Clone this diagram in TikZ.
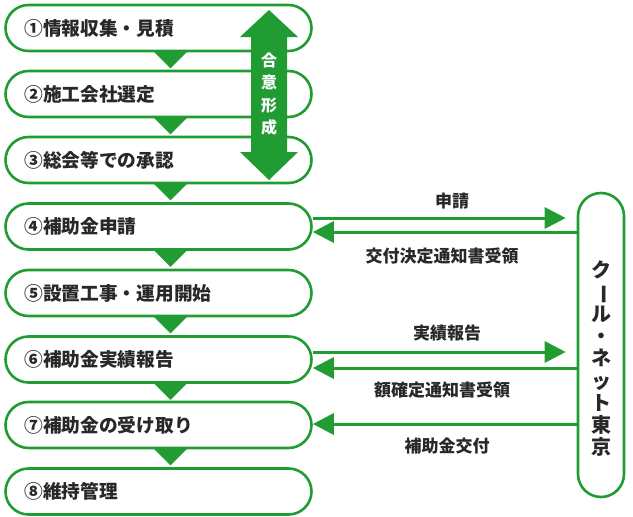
\documentclass[tikz,border=0pt]{standalone}
\usepackage{fontspec}
\setmainfont{Noto Sans CJK JP}
\usetikzlibrary{arrows.meta,calc}
\definecolor{gr}{RGB}{32,156,50}
\definecolor{tx}{RGB}{40,40,40}
\begin{document}
\begin{tikzpicture}[x=1pt,y=-1pt,
  stepbox/.style={draw=gr,line width=2.6pt,fill=white,rounded corners=23pt,
    minimum height=46pt,minimum width=306pt,inner xsep=19pt,inner ysep=0pt,
    text width=268pt,align=left,text=tx,font=\fontsize{18.7}{20}\selectfont\bfseries},
  tri/.style={fill=gr},
  arr/.style={draw=gr,line width=3pt,-{Triangle[length=21pt,width=21pt]}},
  lab/.style={text=tx,font=\fontsize{17}{18}\selectfont\bfseries,inner sep=0pt}]
\useasboundingbox (0,0) rectangle (633,517);
% boxes
\node[stepbox] (b1) at (158.5,28) {①情報収集・見積};
\node[stepbox] (b2) at (158.5,94) {②施工会社選定};
\node[stepbox] (b3) at (158.5,160) {③総会等での承認};
\node[stepbox] (b4) at (158.5,226.5) {④補助金申請};
\node[stepbox] (b5) at (158.5,293) {⑤設置工事・運用開始};
\node[stepbox] (b6) at (158.5,359.5) {⑥補助金実績報告};
\node[stepbox] (b7) at (158.5,425) {⑦補助金の受け取り};
\node[stepbox] (b8) at (158.5,491.5) {⑧維持管理};
% down triangles
\foreach \b in {b1,b2,b3,b4,b5,b6,b7}{
  \fill[tri] ($(\b.south)+(-5,-1)$) -- ++(34,0) -- ++(-17,17) -- cycle;
}
% consensus double arrow
\fill[gr] (269,10) -- (298,37) -- (287,37) -- (287,152) -- (298,152) -- (269,180)
  -- (240,152) -- (251,152) -- (251,37) -- (240,37) -- cycle;
\node[text=white,font=\fontsize{16}{22.5}\selectfont\bfseries,align=center,inner sep=0pt] (gi) at (269,94) {合\\意\\形\\成};
% right box
\node[draw=gr,line width=2.6pt,fill=white,rounded corners=23pt,minimum width=46pt,minimum height=304pt] (kn) at (601,345) {};
\node[text=tx,font=\fontsize{20}{22.1}\selectfont\bfseries,align=center,inner sep=0pt] (knt) at (601,358.5)
  {ク\\\rotatebox[origin=c]{-90}{ー}\\ル\\・\\ネ\\ッ\\ト\\東\\京};
% arrows row 4
\draw[arr] (b4.east |- 0,218) -- ($(kn.west |- 0,218)+(-11,0)$);
\draw[arr] (kn.west |- 0,232) -- (b4.east |- 0,232);
\node[lab] (l1) at (452,201) {申請};
\node[lab] (l2) at (442,256) {交付決定通知書受領};
% arrows row 6
\draw[arr] (b6.east |- 0,352) -- ($(kn.west |- 0,352)+(-11,0)$);
\draw[arr] (kn.west |- 0,368) -- (b6.east |- 0,368);
\node[lab] (l3) at (447,333) {実績報告};
\node[lab] (l4) at (442,390) {額確定通知書受領};
% arrow row 7
\draw[arr] (kn.west |- 0,424) -- (b7.east |- 0,424);
\node[lab] (l5) at (447,446) {補助金交付};
\end{tikzpicture}
\end{document}
